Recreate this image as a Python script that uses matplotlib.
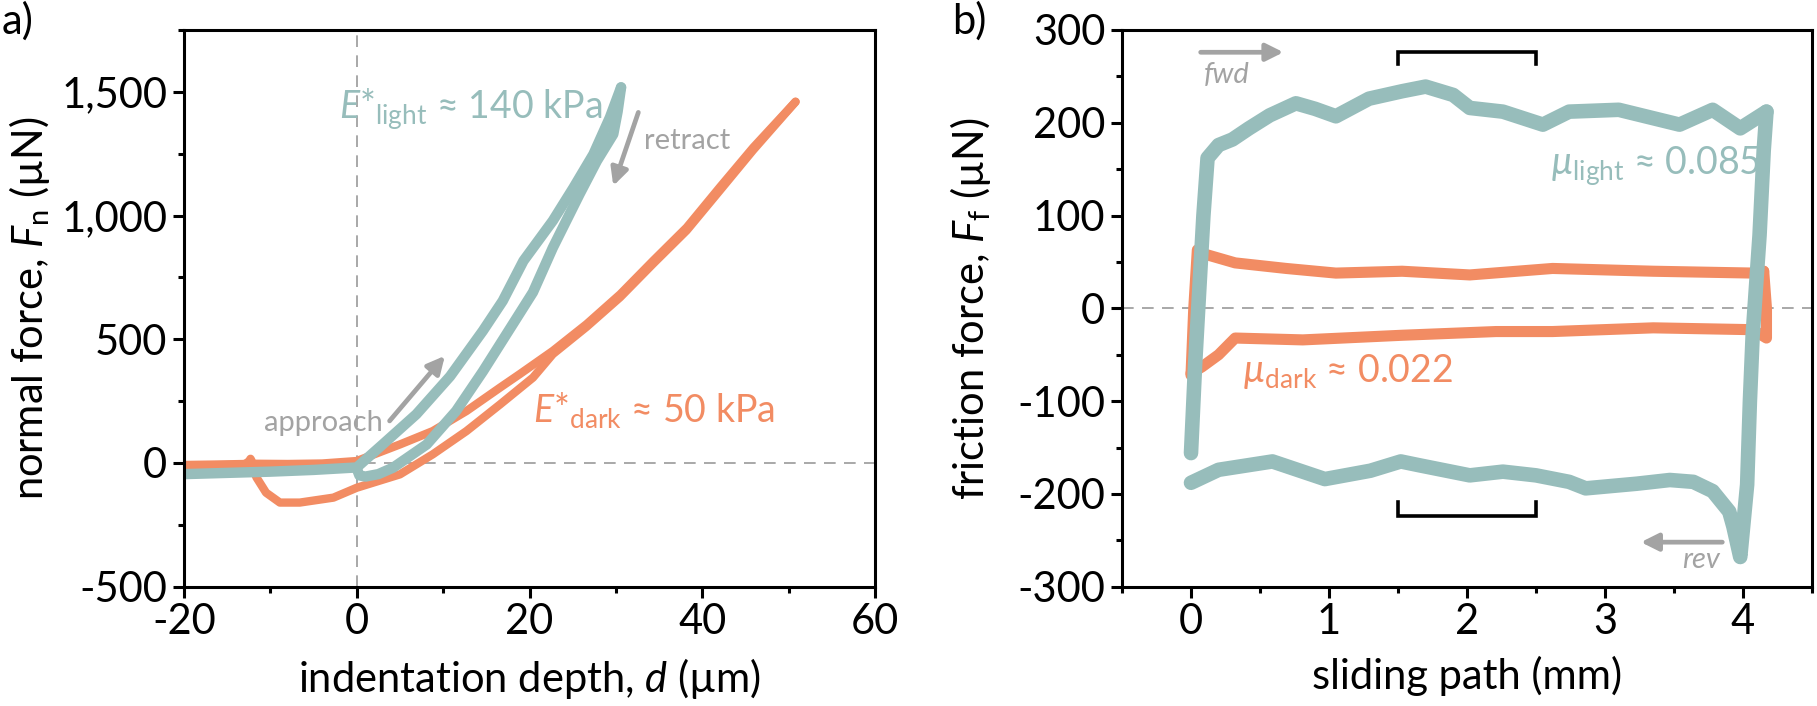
import numpy as np
import matplotlib
matplotlib.use('Agg')
import matplotlib.pyplot as plt
from matplotlib.ticker import MultipleLocator

# ---- panel a: indentation curves ----
light_app_d = [-20, -15, -10, -5, 0, 3, 6.9, 10.8, 14.6, 16.9, 19.3, 22.7, 25.1, 27.4, 29.3, 30.6]
light_app_f = [-45, -40, -35, -28, -18, 75, 197, 350, 534, 655, 817, 979, 1113, 1248, 1396, 1518]
light_ret_d = [30.6, 30.2, 29.7, 27.8, 25.8, 22.7, 20.4, 18.5, 14.6, 11.5, 8.1, 4.2, 2.5, 1.0, 0.3, 0.0]
light_ret_f = [1518, 1420, 1329, 1221, 1087, 870, 690, 585, 370, 210, 75, -19, -45, -55, -50, -22]

dark_app_d = [-20, -16, -13, -12.5, -12.3, -12.0, -8, -4, 0, 5, 8.8, 12.7, 16.6, 18.9, 22.7,
              26.6, 30.5, 34.3, 38.2, 42, 45.9, 50.8]
dark_app_f = [-8, -6, -4, 5, 17, -3, -4, -2, 8, 75, 129, 210, 305, 360, 453,
              561, 682, 817, 952, 1113, 1275, 1460]
dark_ret_d = [50.8, 45.9, 42, 38.2, 34.3, 30.5, 26.6, 22.7, 20.4, 16.6, 12.7, 8.8, 5, 0,
              -2.7, -6.6, -8.9, -10.5, -11.6, -12.2, -14, -20]
dark_ret_f = [1460, 1265, 1100, 940, 805, 670, 550, 440, 345, 237, 129, 35, -46, -100,
              -140, -160, -160, -120, -59, -10, -8, -10]

a_xticks = [-20, 0, 20, 40, 60]
a_yticks = [-500, 0, 500, 1000, 1500]
a_yticklabels = ['-500', '0', '500', '1,000', '1,500']

# ---- panel b: friction loops ----
light_fwd_s = [0, 0.03, 0.058, 0.09, 0.12, 0.2, 0.3, 0.42, 0.57, 0.76, 0.9, 1.05, 1.29, 1.53,
               1.70, 1.90, 2.02, 2.26, 2.55, 2.74, 3.1, 3.54, 3.78, 3.98, 4.17]
light_fwd_f = [-156, -60, 15, 100, 162, 176, 182, 194, 208, 221, 215, 207, 226, 234,
               239, 230, 216, 212, 198, 212, 214, 198, 214, 194, 212]
light_rev_s = [4.17, 4.15, 4.12, 4.07, 4.05, 4.03, 3.98, 3.93, 3.9, 3.78, 3.64, 3.47, 3.23,
               2.86, 2.74, 2.5, 2.26, 2.02, 1.65, 1.52, 1.3, 0.97, 0.59, 0.2, 0.0]
light_rev_f = [212, 170, 79, -29, -100, -190, -268, -235, -219, -197, -187, -185, -189,
               -194, -187, -180, -176, -180, -169, -165, -175, -184, -165, -174, -188]

dark_fwd_s = [0, 0.02, 0.046, 0.11, 0.32, 0.69, 1.05, 1.53, 2.02, 2.62, 3.35, 4.08, 4.15]
dark_fwd_f = [-72, 0, 63, 58, 49, 43, 38, 40, 36, 43, 40, 38, 40]
dark_rev_s = [4.15, 4.17, 4.17, 4.07, 3.35, 2.62, 2.21, 1.53, 0.81, 0.32, 0.2, 0.08, 0.0]
dark_rev_f = [40, 0, -32, -23, -21, -25, -25, -29, -34, -32, -50, -63, -70]

b_xticks = [0, 1, 2, 3, 4]
b_yticks = [-300, -200, -100, 0, 100, 200, 300]

bracket_s = [1.5, 2.5]

teal = '#97BDBB'
orange = '#F28C63'
grey = '#A3A3A3'
dash = '#9A9A9A'

plt.rcParams['font.family'] = ['Lato', 'DejaVu Sans']
plt.rcParams['mathtext.fontset'] = 'custom'
plt.rcParams['mathtext.rm'] = 'Lato'
plt.rcParams['mathtext.it'] = 'Lato:italic'
plt.rcParams['mathtext.bf'] = 'Lato:bold'
plt.rcParams['axes.unicode_minus'] = False

fs = 30      # ticks and axis labels
fs_note = 27  # coloured annotations

fig = plt.figure(figsize=(18.17, 7.06), dpi=100)
ax1 = fig.add_axes([0.10127, 0.16898, 0.38030, 0.78853])
ax2 = fig.add_axes([0.61750, 0.16898, 0.37975, 0.78853])

for ax in (ax1, ax2):
    for sp in ax.spines.values():
        sp.set_linewidth(2.2)
    ax.tick_params(which='major', direction='out', length=8, width=2.2, labelsize=fs, pad=4)
    ax.tick_params(which='minor', direction='out', length=4.5, width=2.2)
    ax.tick_params(top=False, right=False)

line_kw = dict(solid_capstyle='round', solid_joinstyle='round')

# panel a
ax1.axvline(0, color=dash, lw=1.2, ls=(0, (7, 5)), zorder=0)
ax1.axhline(0, color=dash, lw=1.2, ls=(0, (7, 5)), zorder=0)
ax1.plot(dark_app_d, dark_app_f, color=orange, lw=6, **line_kw)
ax1.plot(dark_ret_d, dark_ret_f, color=orange, lw=6, **line_kw)
ax1.plot(light_app_d, light_app_f, color=teal, lw=7.5, **line_kw)
ax1.plot(light_ret_d, light_ret_f, color=teal, lw=7.5, **line_kw)

ax1.set_xlim(-20, 60)
ax1.set_ylim(-500, 1750)
ax1.set_xticks(a_xticks)
ax1.set_xticklabels([str(t) for t in a_xticks])
ax1.set_yticks(a_yticks)
ax1.set_yticklabels(a_yticklabels)
ax1.xaxis.set_minor_locator(MultipleLocator(10))
ax1.yaxis.set_minor_locator(MultipleLocator(250))
ax1.set_xlabel(r'indentation depth, $d$ (µm)', fontsize=fs)
ax1.set_ylabel(r'normal force, $F_\mathrm{n}$ (µN)', fontsize=fs)
ax1.xaxis.set_label_coords(0.5, -0.125)
ax1.yaxis.set_label_coords(-0.191, 0.5)

arrow_kw = dict(arrowstyle='-|>', color=grey, lw=3.4, mutation_scale=26, shrinkA=0, shrinkB=0)
ax1.annotate('', xy=(10.2, 433), xytext=(3.8, 170), arrowprops=arrow_kw)
ax1.annotate('', xy=(29.7, 1120), xytext=(32.6, 1417), arrowprops=arrow_kw)
ax1.text(3.0, 163, 'approach', color=grey, fontsize=21, ha='right', va='center')
ax1.text(33.3, 1300, 'retract', color=grey, fontsize=21, ha='left', va='center')
ax1.text(-2.0, 1391, r'$E$*${}_\mathrm{light}$ ≈ 140 kPa', color=teal, fontsize=fs_note,
         ha='left', va='baseline')
ax1.text(20.4, 166, r'$E$*${}_\mathrm{dark}$ ≈ 50 kPa', color=orange, fontsize=fs_note,
         ha='left', va='baseline')

# panel b
ax2.axhline(0, color=dash, lw=1.2, ls=(0, (7, 5)), zorder=0)
ax2.plot(dark_fwd_s, dark_fwd_f, color=orange, lw=8, **line_kw)
ax2.plot(dark_rev_s, dark_rev_f, color=orange, lw=8, **line_kw)
ax2.plot(light_fwd_s, light_fwd_f, color=teal, lw=10.5, **line_kw)
ax2.plot(light_rev_s, light_rev_f, color=teal, lw=10.5, **line_kw)

# brackets marking the averaging window
ax2.plot([bracket_s[0], bracket_s[0], bracket_s[1], bracket_s[1]], [263, 276, 276, 263],
         color='black', lw=2.6, solid_joinstyle='miter')
ax2.plot([bracket_s[0], bracket_s[0], bracket_s[1], bracket_s[1]], [-209, -224, -224, -209],
         color='black', lw=2.6, solid_joinstyle='miter')

ax2.set_xlim(-0.5, 4.5)
ax2.set_ylim(-300, 300)
ax2.set_xticks(b_xticks)
ax2.set_xticklabels([str(t) for t in b_xticks])
ax2.set_yticks(b_yticks)
ax2.set_yticklabels([str(t) for t in b_yticks])
ax2.xaxis.set_minor_locator(MultipleLocator(0.5))
ax2.yaxis.set_minor_locator(MultipleLocator(50))
ax2.set_xlabel('sliding path (mm)', fontsize=fs)
ax2.set_ylabel(r'friction force, $F_\mathrm{f}$ (µN)', fontsize=fs)
ax2.xaxis.set_label_coords(0.5, -0.125)
ax2.yaxis.set_label_coords(-0.187, 0.5)

ax2.annotate('', xy=(0.67, 276), xytext=(0.07, 276), arrowprops=arrow_kw)
ax2.annotate('', xy=(3.26, -252), xytext=(3.85, -252), arrowprops=arrow_kw)
ax2.text(0.26, 251, 'fwd', color=grey, fontsize=21, style='italic', ha='center', va='center')
ax2.text(3.83, -271, 'rev', color=grey, fontsize=21, style='italic', ha='right', va='center')
ax2.text(2.6, 144, r'$\mathit{µ}_\mathrm{light}$ ≈ 0.085', color=teal, fontsize=fs_note,
         ha='left', va='baseline')
ax2.text(0.37, -79, r'$\mathit{µ}_\mathrm{dark}$ ≈ 0.022', color=orange, fontsize=fs_note,
         ha='left', va='baseline')

fig.text(0.001, 0.998, 'a)', fontsize=30, ha='left', va='top')
fig.text(952 / 1817, 0.998, 'b)', fontsize=30, ha='left', va='top')

fig.savefig('out.png', dpi=100)
